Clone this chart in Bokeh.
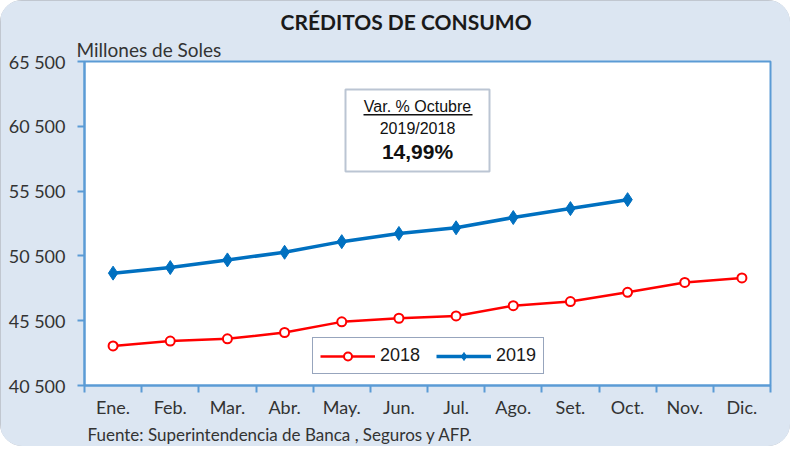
from bokeh.plotting import figure
from bokeh.models import Range1d, FixedTicker, Label, BoxAnnotation, InlineStyleSheet, Title
from bokeh.embed import file_html
from bokeh.resources import INLINE

months = ["Ene.", "Feb.", "Mar.", "Abr.", "May.", "Jun.", "Jul.", "Ago.", "Set.", "Oct.", "Nov.", "Dic."]
credits_2018 = [43550, 43930, 44100, 44590, 45410, 45690, 45870, 46660, 46980, 47690, 48450, 48800]
credits_2019 = [49170, 49600, 50190, 50780, 51600, 52230, 52670, 53460, 54150, 54840]
y_ticks = [40500, 45500, 50500, 55500, 60500, 65500]
y_tick_labels = ["40 500", "45 500", "50 500", "55 500", "60 500", "65 500"]

month_pos = list(range(1, len(months) + 1))
boundaries = [i + 0.5 for i in range(len(months) + 1)]

BLUE_AX = "#5B9BD5"
TXT = "#333333"

p = figure(width=790, height=446, x_range=Range1d(0.5, 12.5), y_range=Range1d(40500, 65500),
           output_backend="svg", toolbar_location=None,
           min_border_left=84, min_border_right=20, min_border_top=61, min_border_bottom=59)
p.stylesheets = [InlineStyleSheet(css=":host { border-radius: 22px; overflow: hidden; outline: 1px solid #b8bcc4; outline-offset: -1px; }")]
p.xgrid.visible = False
p.ygrid.visible = False
p.background_fill_color = "white"
p.border_fill_color = "#DCE6F2"
p.outline_line_color = BLUE_AX
p.outline_line_width = 2

p.title.text = "CRÉDITOS DE CONSUMO"
p.title.align = "left"
p.title.offset = 196
p.title.standoff = 0
p.title.vertical_align = "middle"
p.title.text_font = "Lato"
p.title.text_font_size = "21px"
p.title.text_font_style = "bold"
p.title.text_color = "#1a1a1a"

p.add_layout(Title(text="Millones de Soles", align="left", offset=-8, standoff=2,
                   text_font="Lato", text_font_size="19px", text_font_style="normal",
                   text_color=TXT), "above")
p.add_layout(Title(text="Fuente: Superintendencia de Banca , Seguros y AFP.", align="left", offset=3,
                   standoff=3, text_font="Lato", text_font_size="17px", text_font_style="normal",
                   text_color=TXT), "below")

xa = p.xaxis[0]
xa.ticker = FixedTicker(ticks=month_pos, minor_ticks=boundaries)
xa.major_label_overrides = {i: m for i, m in zip(month_pos, months)}
xa.major_tick_line_color = None
xa.major_tick_out = 0
xa.major_tick_in = 0
xa.minor_tick_line_color = BLUE_AX
xa.minor_tick_line_width = 2
xa.minor_tick_out = 7
xa.minor_tick_in = 0
xa.axis_line_color = BLUE_AX
xa.axis_line_width = 2
xa.major_label_standoff = 3
xa.major_label_text_font = "Lato"
xa.major_label_text_font_size = "18px"
xa.major_label_text_color = TXT

ya = p.yaxis[0]
ya.ticker = FixedTicker(ticks=y_ticks)
ya.major_label_overrides = {t: l for t, l in zip(y_ticks, y_tick_labels)}
ya.minor_tick_line_color = None
ya.major_tick_line_color = BLUE_AX
ya.major_tick_line_width = 2
ya.major_tick_out = 7
ya.major_tick_in = 0
ya.axis_line_color = BLUE_AX
ya.axis_line_width = 2
ya.major_label_standoff = 12
ya.major_label_text_font = "Lato"
ya.major_label_text_font_size = "18px"
ya.major_label_text_color = TXT

p.line(month_pos, credits_2018, line_color="#FF0000", line_width=2.5, legend_label="2018")
p.scatter(month_pos, credits_2018, marker="circle", size=9, fill_color="white",
          line_color="#FF0000", line_width=2, legend_label="2018")
p.line(month_pos[:len(credits_2019)], credits_2019, line_color="#0070C0", line_width=3.5, legend_label="2019")
p.scatter(month_pos[:len(credits_2019)], credits_2019, marker="diamond", size=14,
          fill_color="#0070C0", line_color="#0070C0", legend_label="2019")

lg = p.legend[0]
lg.location = (228, 11)
lg.orientation = "horizontal"
lg.border_line_color = "#2F4B7C"
lg.border_line_width = 1.5
lg.background_fill_color = "white"
lg.background_fill_alpha = 1
lg.label_text_font = "Liberation Sans"
lg.label_text_font_size = "18px"
lg.label_text_color = "#1a1a1a"
lg.glyph_width = 55
lg.glyph_height = 20
lg.padding = 7
lg.spacing = 16
lg.label_standoff = 5
lg.margin = 0

# annotation box
box = BoxAnnotation(left=261, right=405, bottom=214, top=296,
                    left_units="screen", right_units="screen", top_units="screen", bottom_units="screen",
                    fill_color="white", fill_alpha=1, line_color="#1F3E6E", line_width=2, level="overlay")
p.add_layout(box)
underline = BoxAnnotation(left=279, right=388, bottom=270, top=271.5,
                          left_units="screen", right_units="screen", top_units="screen", bottom_units="screen",
                          fill_color="#111111", fill_alpha=1, line_color=None, level="overlay")
p.add_layout(underline)
for txt, yy, sz, st in [("Var. % Octubre", 279, "16px", "normal"), ("2019/2018", 257, "16px", "normal"),
                        ("14,99%", 234, "21px", "bold")]:
    p.add_layout(Label(x=333, y=yy, x_units="screen", y_units="screen", text=txt, text_align="center",
                       text_baseline="middle", text_font="Liberation Sans", text_font_size=sz,
                       text_font_style=st, text_color="#111111", level="overlay"))

open("out.html", "w").write(file_html(p, INLINE))
